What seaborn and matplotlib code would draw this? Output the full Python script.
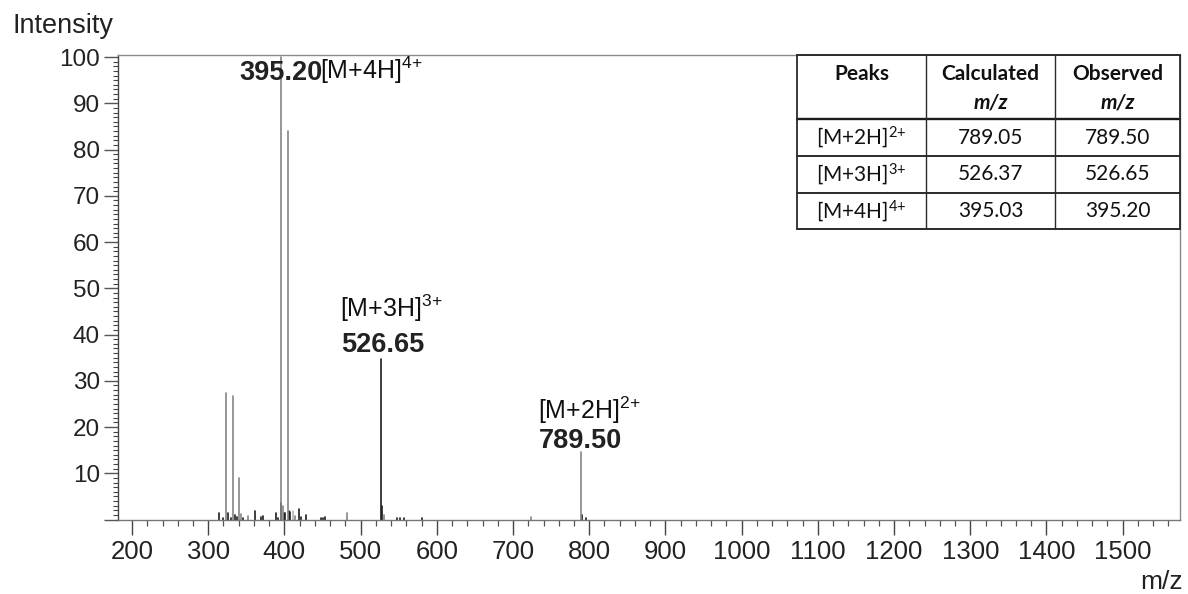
import matplotlib
matplotlib.use("Agg")
import matplotlib.pyplot as plt
from matplotlib.lines import Line2D
from matplotlib.patches import Rectangle
from matplotlib.ticker import MultipleLocator
import pandas as pd
import seaborn as sns

# ---- spectrum peak list (m/z, relative intensity %, stroke shade) ----
mz = [314.2, 319.0, 323.4, 326.4, 329.5, 332.0, 334.7, 338.0, 340.4, 342.6,
      345.0, 351.8, 361.9, 369.0, 372.4, 389.0, 392.0, 395.20, 396.0, 397.6,
      399.8, 401.0, 404.3, 405.5, 407.2, 411.0, 413.6, 418.7, 421.6, 428.3,
      447.5, 450.0, 453.0, 482.6, 526.65, 527.4, 530.4, 548.0, 552.0, 557.0,
      581.0, 724.0, 789.50, 790.6, 796.0]
intensity = [1.4, 0.3, 27.4, 1.4, 0.4, 26.8, 0.9, 0.6, 9.0, 1.1,
             0.4, 0.7, 1.9, 0.6, 0.7, 1.3, 0.4, 100.0, 3.6, 3.0,
             1.3, 1.4, 84.0, 1.9, 1.7, 1.9, 0.7, 2.2, 0.6, 0.9,
             0.3, 0.4, 0.6, 1.4, 34.6, 3.0, 0.9, 0.3, 0.3, 0.3,
             0.4, 0.5, 14.6, 1.0, 0.3]
shade = ["dark", "dark", "grey", "dark", "dark", "grey", "dark", "dark", "grey", "grey",
         "dark", "grey", "dark", "dark", "dark", "dark", "dark", "grey", "dark", "grey",
         "dark", "dark", "grey", "dark", "dark", "light", "grey", "dark", "dark", "dark",
         "dark", "dark", "dark", "grey", "dark", "dark", "grey", "dark", "dark", "dark",
         "dark", "grey", "grey", "dark", "dark"]
shade_colors = {"dark": "#1e1e1e", "grey": "#858585", "light": "#b8b8b8"}

# ---- labelled ions ----
ion_names = ["[M+2H]", "[M+3H]", "[M+4H]"]
ion_charges = ["2+", "3+", "4+"]
calculated_mz = ["789.05", "526.37", "395.03"]
observed_mz = [789.50, 526.65, 395.20]

# ---- axis ticks ----
x_range = (181.6, 1575.2)
y_range = (0, 100.5)
y_ticks = list(range(0, 101, 10))
y_tick_labels = [""] + [str(v) for v in range(10, 101, 10)]

W, H = 1188, 594
sns.set_theme(style="ticks")
plt.rcParams["font.family"] = ["Liberation Sans", "DejaVu Sans"]
plt.rcParams["mathtext.default"] = "regular"


def ion_label(name, charge):
    # charge written as a superscript; the sign is braced so it is not spaced as an operator
    return name + r"$^{" + charge[:-1] + "{" + charge[-1] + "}}$"


fig = plt.figure(figsize=(W / 100, H / 100), dpi=100)
fig.patch.set_facecolor("white")
ax = fig.add_axes([118 / W, 1 - 519.5 / H, (1180 - 118) / W, (519.5 - 54.7) / H])
ax.set_facecolor("white")

# stems: every peak is a two-point vertical line from the baseline
peaks = pd.DataFrame({"mz": mz, "intensity": intensity, "shade": shade})
peaks["peak"] = range(len(peaks))
stems = pd.concat([peaks.assign(level=0.0),
                   peaks.assign(level=peaks["intensity"])]).sort_values(["peak", "level"])
sns.lineplot(data=stems, x="mz", y="level", units="peak", estimator=None,
             hue="shade", palette=shade_colors, sort=False, legend=False,
             linewidth=1.2, ax=ax)

ax.set_xlim(*x_range)
ax.set_ylim(*y_range)
ax.set_xlabel("")
ax.set_ylabel("")
ax.xaxis.set_major_locator(MultipleLocator(100))
ax.xaxis.set_minor_locator(MultipleLocator(20))
ax.set_yticks(y_ticks)
ax.set_yticklabels(y_tick_labels)
ax.yaxis.set_minor_locator(MultipleLocator(1))

ax.tick_params(axis="x", which="major", direction="out", length=10.8, width=1.0,
               color="#444444", labelsize=18.5, labelcolor="#222222", pad=4)
ax.tick_params(axis="x", which="minor", direction="out", length=4.3, width=0.9,
               color="#555555")
ax.tick_params(axis="y", which="major", direction="out", length=10, width=1.0,
               color="#555555", labelsize=17.5, labelcolor="#222222", pad=3)
ax.tick_params(axis="y", which="minor", direction="out", length=3.8, width=0.8,
               color="#444444")
for side, col in {"left": "#444444", "bottom": "#777777",
                  "top": "#8a8a8a", "right": "#8a8a8a"}.items():
    ax.spines[side].set_visible(True)
    ax.spines[side].set_color(col)
    ax.spines[side].set_linewidth(1.0)

fig.text(12.5 / W, 1 - 33.3 / H, "Intensity", fontsize=19.5, color="#222222",
         va="baseline", ha="left")
fig.text(1183 / W, 1 - 589 / H, "m/z", fontsize=19, color="#222222",
         va="baseline", ha="right")

# ---- peak annotations ----
ion_at = {name: (obs, intensity[mz.index(obs)]) for name, obs in zip(ion_names, observed_mz)}
num_style = dict(fontsize=19.5, fontweight="bold", color="#222222", va="baseline", ha="left")
ion_style = dict(fontsize=18, color="#111111", va="baseline", ha="left")

# [M+2H]2+ and [M+3H]3+ : ion name stacked above the value
for name, charge, obs, dx, dy_num, dy_ion in [
        ("[M+2H]", "2+", 789.50, -30.5, 3.0, 23.5),
        ("[M+3H]", "3+", 526.65, -28.8, 5.6, 30.4)]:
    x0, y0 = ion_at[name]
    ax.annotate(f"{obs:.2f}", xy=(x0, y0), xytext=(dx, dy_num),
                textcoords="offset points", **num_style)
    ax.annotate(ion_label(name, charge), xy=(x0, y0), xytext=(dx - 1, dy_ion),
                textcoords="offset points", **ion_style)

# [M+4H]4+ : value and ion name on one line
x0, y0 = ion_at["[M+4H]"]
num_text = ax.annotate(f"{observed_mz[2]:.2f}", xy=(x0, y0), xytext=(-29.9, -16.7),
                       textcoords="offset points", **num_style)
ax.annotate(ion_label("[M+4H]", "4+"), xy=(1, 0), xycoords=num_text, xytext=(-1.5, 0.3),
            textcoords="offset points", fontsize=18, color="#111111",
            va="bottom", ha="left")

# ---- summary table ----
col_x = [797, 926, 1055, 1180]
row_y = [54.7, 119, 156, 193, 229]


def fx(px):
    return px / W


def fy(py):
    return 1 - py / H


fig.add_artist(Rectangle((fx(col_x[0]), fy(row_y[-1])), fx(col_x[-1] - col_x[0]),
                         (row_y[-1] - row_y[0]) / H, transform=fig.transFigure,
                         facecolor="white", edgecolor="none", zorder=2))
for i, yy in enumerate(row_y):
    lw = 1.7 if i == 1 else 1.3
    fig.add_artist(Line2D([fx(col_x[0]), fx(col_x[-1])], [fy(yy), fy(yy)],
                          transform=fig.transFigure, color="#1a1a1a", lw=lw, zorder=3))
for i, xx in enumerate(col_x):
    lw = 1.3 if i in (0, len(col_x) - 1) else 1.0
    fig.add_artist(Line2D([fx(xx), fx(xx)], [fy(row_y[0]), fy(row_y[-1])],
                          transform=fig.transFigure, color="#2a2a2a", lw=lw, zorder=3))

centers = [(col_x[i] + col_x[i + 1]) / 2 for i in range(3)]
table_font = ["Lato", "DejaVu Sans"]
head = dict(fontsize=15, fontweight="bold", family=table_font, color="#111111",
            ha="center", va="center", zorder=4)
fig.text(fx(centers[0]), fy(74), "Peaks", **head)
fig.text(fx(centers[1]), fy(74), "Calculated", **head)
fig.text(fx(centers[2]), fy(74), "Observed", **head)
for c in centers[1:]:
    fig.text(fx(c), fy(103), "m/z", style="italic", **head)

cell = dict(fontsize=15, family=table_font, color="#111111",
            ha="center", va="center", zorder=4)
row_centers = [(row_y[i] + row_y[i + 1]) / 2 for i in range(1, 4)]
for rc, name, charge, calc, obs in zip(row_centers, ion_names, ion_charges,
                                       calculated_mz, observed_mz):
    fig.text(fx(centers[0]), fy(rc), ion_label(name, charge), **cell)
    fig.text(fx(centers[1]), fy(rc), calc, **cell)
    fig.text(fx(centers[2]), fy(rc), f"{obs:.2f}", **cell)

fig.savefig("out.png", dpi=100, facecolor="white")
